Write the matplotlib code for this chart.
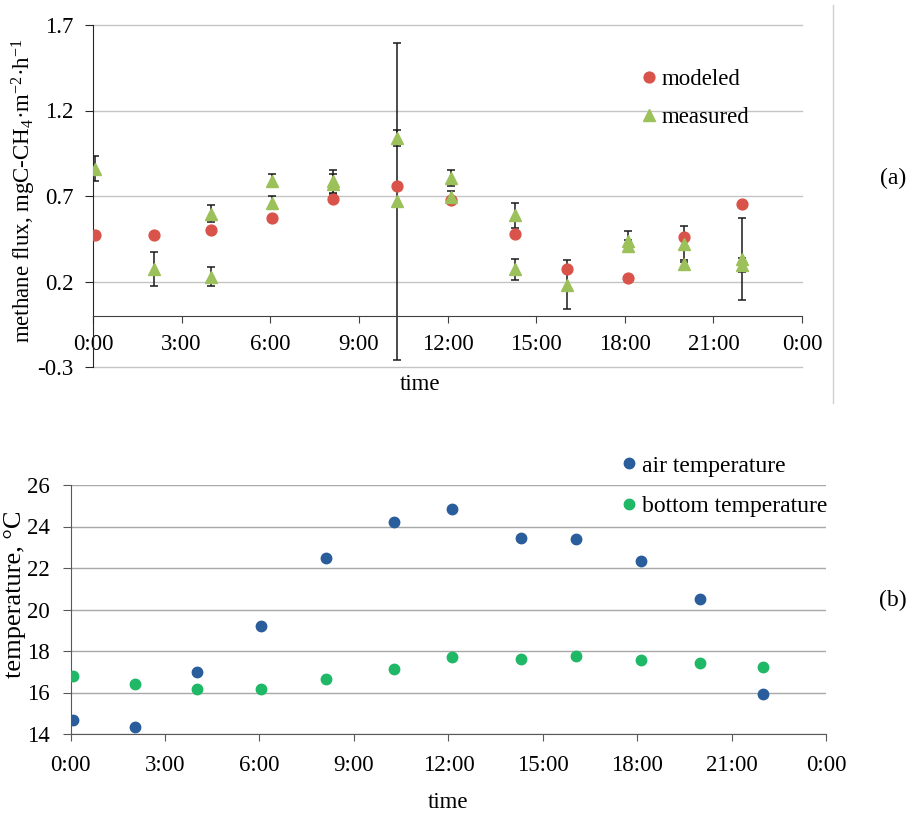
"""Diurnal methane flux (modeled vs measured) and air / bottom temperature."""

import matplotlib
matplotlib.use("Agg")
import matplotlib.pyplot as plt
from matplotlib.lines import Line2D

plt.rcParams["font.family"] = ["Liberation Serif", "DejaVu Serif"]
plt.rcParams["mathtext.fontset"] = "custom"
plt.rcParams["mathtext.rm"] = "Liberation Serif"
plt.rcParams["mathtext.it"] = "Liberation Serif:italic"

# sampling times, hours since midnight
hours = [0.07, 2.05, 4.01, 6.06, 8.11, 10.28, 12.11, 14.29, 16.06, 18.1, 19.99, 21.98]

# methane flux, mgC-CH4 m-2 h-1
modeled = [0.470, 0.474, 0.503, 0.571, 0.681, 0.757, 0.678, 0.480, 0.271, 0.221, 0.460, 0.655]

meas_hours = [0.07, 2.05, 4.01, 4.01, 6.06, 6.06, 8.11, 8.11, 10.28, 10.28,
              12.11, 12.11, 14.29, 14.29, 16.06, 18.1, 18.1, 19.99, 19.99, 21.98, 21.98]
measured = [0.859, 0.275, 0.596, 0.228, 0.790, 0.660, 0.785, 0.770, 1.039, 0.668,
            0.806, 0.692, 0.588, 0.271, 0.182, 0.435, 0.410, 0.420, 0.305, 0.332, 0.295]
meas_err = [0.073, 0.100, 0.050, 0.055, 0.040, 0.038, 0.065, 0.060, 0.047, 0.925,
            0.047, 0.040, 0.073, 0.060, 0.145, 0.060, 0.030, 0.105, 0.020, 0.241, 0.040]

# temperatures, deg C
air_temp = [14.67, 14.35, 17.0, 19.22, 22.47, 24.2, 24.84, 23.45, 23.42, 22.35, 20.51, 15.93]
bottom_temp = [16.81, 16.39, 16.17, 16.17, 16.63, 17.13, 17.69, 17.61, 17.74, 17.57, 17.42, 17.23]

time_ticks = [0, 3, 6, 9, 12, 15, 18, 21, 24]
time_labels = ["0:00", "3:00", "6:00", "9:00", "12:00", "15:00", "18:00", "21:00", "0:00"]

RED = "#d9534a"
LIGHT_GREEN = "#9cc05a"
BLUE = "#2a5d9c"
GREEN = "#1fb866"

W, H = 913, 814
fig = plt.figure(figsize=(W / 100, H / 100), dpi=100)


def px_axes(left, top, right, bottom):
    return fig.add_axes([left / W, 1 - bottom / H, (right - left) / W, (bottom - top) / H])


# ---- (a) methane flux ----
ax1 = px_axes(93, 25, 802, 367)
ax1.errorbar(meas_hours, measured, yerr=meas_err, fmt="none", ecolor="#1a1a1a",
             elinewidth=1.1, capsize=3.2, capthick=1.1, zorder=2)
ax1.plot(hours, modeled, "o", color=RED, markersize=7.8, linestyle="none",
         label="modeled", zorder=3)
ax1.plot(meas_hours, measured, "^", color=LIGHT_GREEN, markersize=8.3, linestyle="none",
         label="measured", zorder=4)

ax1.set_xlim(0, 24)
ax1.set_ylim(-0.3, 1.7)
ax1.set_xticks(time_ticks)
ax1.set_xticklabels(time_labels)
ax1.set_yticks([-0.3, 0.2, 0.7, 1.2, 1.7])
ax1.set_yticklabels(["-0.3", "0.2", "0.7", "1.2", "1.7"])
ax1.grid(axis="y", color="#c4c4c4", linewidth=1.0)
ax1.set_axisbelow(True)
for gl in ax1.get_ygridlines():
    gl.set_clip_on(False)
for side in ("top", "right"):
    ax1.spines[side].set_visible(False)
ax1.spines["bottom"].set_position(("data", 0))
ax1.spines["bottom"].set_color("#404040")
ax1.spines["left"].set_color("#262626")
ax1.tick_params(axis="x", direction="out", length=5, color="#404040",
                labelsize=16.5, pad=8)
ax1.tick_params(axis="y", direction="out", length=6, color="#262626",
                labelsize=16.5, pad=8)
ax1.set_xlabel("time", fontsize=16.5)
ax1.xaxis.set_label_coords(0.461, -0.02)
ax1.set_ylabel("methane flux, mgC-CH$_4$·m$^{\\mathrm{-2}}$·h$^{\\mathrm{-1}}$", fontsize=16.5)
ax1.yaxis.set_label_coords(-0.078, 0.515)
ax1.legend(loc="upper left", bbox_to_anchor=(642 / W, 1 - 69 / H),
           bbox_transform=fig.transFigure, frameon=False, fontsize=16.5,
           handlelength=0.6, handletextpad=0.25, labelspacing=0.75, borderpad=0,
           borderaxespad=0)

# ---- (b) temperature ----
ax2 = px_axes(70.5, 485, 826.4, 734)
ax2.plot(hours, air_temp, "o", color=BLUE, markersize=7.5, linestyle="none",
         label="air temperature", zorder=3)
ax2.plot(hours, bottom_temp, "o", color=GREEN, markersize=7.5, linestyle="none",
         label="bottom temperature", zorder=3)

ax2.set_xlim(0, 24)
ax2.set_ylim(14, 26)
ax2.set_xticks(time_ticks)
ax2.set_xticklabels(time_labels)
ax2.set_yticks(range(14, 27, 2))
ax2.grid(axis="y", color="#a8a8a8", linewidth=1.0)
ax2.set_axisbelow(True)
for side in ("top", "right"):
    ax2.spines[side].set_visible(False)
ax2.spines["bottom"].set_color("#595959")
ax2.spines["left"].set_color("#595959")
ax2.tick_params(axis="x", direction="out", length=5, color="#595959",
                labelsize=16.5, pad=10)
ax2.tick_params(axis="y", direction="out", length=6, color="#595959",
                labelsize=16.5, pad=9)
ax2.set_xlabel("time", fontsize=16.5)
ax2.xaxis.set_label_coords(0.5, -0.232)
ax2.set_ylabel("temperature, °C", fontsize=19)
ax2.yaxis.set_label_coords(-0.059, 0.56)
ax2.legend(loc="upper left", bbox_to_anchor=(624 / W, 1 - 455 / H),
           bbox_transform=fig.transFigure, frameon=False, fontsize=17,
           handlelength=0.4, handletextpad=0.35, labelspacing=0.82, borderpad=0,
           borderaxespad=0)

# panel frame edge and panel tags
fig.add_artist(Line2D([833 / W, 833 / W], [1 - 5 / H, 1 - 403 / H],
                      transform=fig.transFigure, color="#d0d0d0", linewidth=1.0))
fig.text(893 / W, 1 - 178 / H, "(a)", fontsize=17, ha="center", va="center")
fig.text(893 / W, 1 - 600 / H, "(b)", fontsize=17, ha="center", va="center")

fig.savefig("out.png", dpi=100)
